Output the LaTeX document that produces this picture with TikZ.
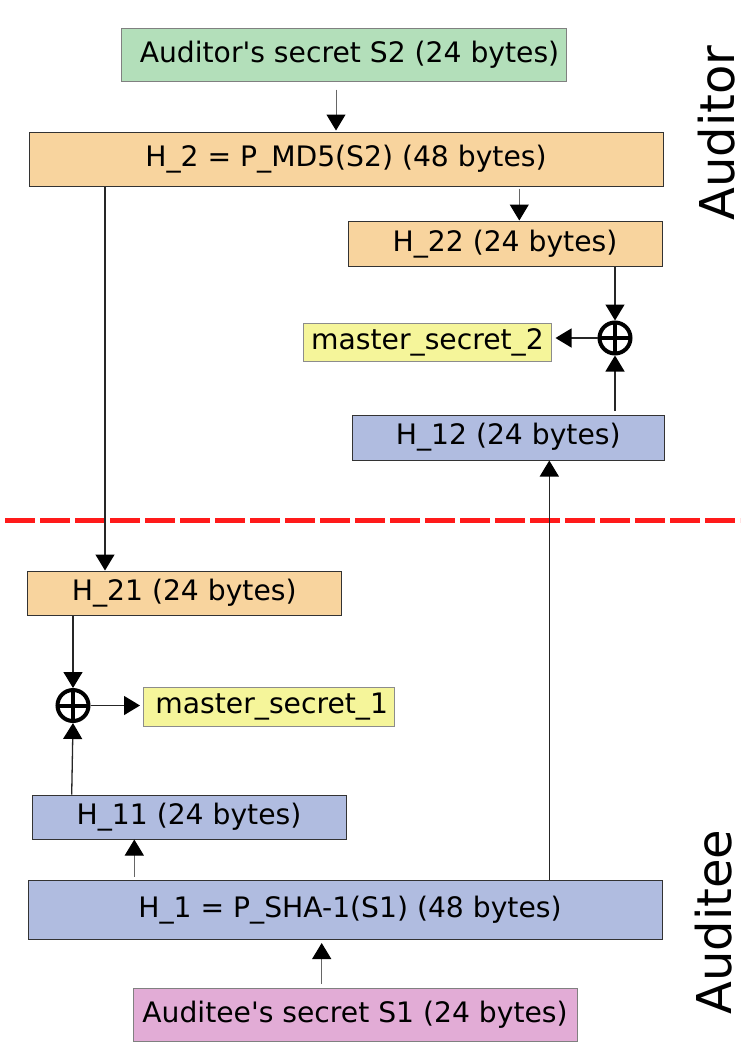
\documentclass[tikz,border=0pt]{standalone}
\usepackage{fontspec}
\setmainfont{DejaVu Sans}
\usetikzlibrary{arrows.meta,calc}
\definecolor{cgreen}{HTML}{B3DFBA}
\definecolor{corange}{HTML}{F8D49E}
\definecolor{cblue}{HTML}{B0BCE0}
\definecolor{cyellow}{HTML}{F5F59A}
\definecolor{cpink}{HTML}{E2ACD6}
\definecolor{cred}{HTML}{FF1A1A}
\tikzset{
  box/.style={draw=#1, line width=1pt, inner sep=0pt, font=\fontsize{28.2}{33}\selectfont, anchor=center},
  arr/.style={draw=black!85, line width=1.3pt, -{Triangle[length=16pt,width=19pt,color=black]}},
  thinarr/.style={arr, draw=black!60, line width=1pt},
  xorsym/.style={circle, draw=black, line width=4pt, minimum size=31pt, inner sep=0pt,
    path picture={\draw[line width=4pt] (path picture bounding box.north) -- (path picture bounding box.south)
      (path picture bounding box.west) -- (path picture bounding box.east);}},
  side/.style={font=\fontsize{48}{56}\selectfont, rotate=90, inner sep=0pt}
}
\begin{document}
\begin{tikzpicture}[x=1pt,y=-1pt]
\useasboundingbox (0,0) rectangle (745,1053);
% boxes
\node[box=black!50, fill=cgreen, minimum width=445pt, minimum height=52.5pt] (S2) at (343.5,54.75) {\hspace*{12pt}Auditor\textquotesingle s secret S2 (24 bytes)};
\node[box=black!80, fill=corange, minimum width=634pt, minimum height=54pt] (H2) at (346,159.5) {H\_2 = P\_MD5(S2) (48 bytes)};
\node[box=black!80, fill=corange, minimum width=314pt, minimum height=45.5pt] (H22) at (505,243.75) {H\_22 (24 bytes)};
\node[box=black!45, fill=cyellow, minimum width=248pt, minimum height=37.5pt] (MS2) at (427.5,342.25) {master\_secret\_2};
\node[box=black!80, fill=cblue, minimum width=312.5pt, minimum height=45pt] (H12) at (508.25,437.5) {H\_12 (24 bytes)};
\node[box=black!80, fill=corange, minimum width=313.5pt, minimum height=44.5pt] (H21) at (184.25,593.25) {H\_21 (24 bytes)};
\node[box=black!45, fill=cyellow, minimum width=250.5pt, minimum height=38.5pt] (MS1) at (268.75,706.75) {\hspace*{6pt}master\_secret\_1};
\node[box=black!80, fill=cblue, minimum width=314pt, minimum height=44pt] (H11) at (189,817) {H\_11 (24 bytes)};
\node[box=black!80, fill=cblue, minimum width=634pt, minimum height=59.5pt] (H1) at (345,909.75) {\hspace*{10pt}H\_1 = P\_SHA-1(S1) (48 bytes)};
\node[box=black!50, fill=cpink, minimum width=444pt, minimum height=52.5pt] (S1) at (355,1014.75) {Auditee\textquotesingle s secret S1 (24 bytes)};
% xor
\node[xorsym] (X2) at (615,338) {};
\node[xorsym] (X1) at (73,705.5) {};
% side labels
\node[side] (LA) at (717,133) {Auditor};
\node[side] (LE) at (714,922) {Auditee};
% dashed separator
\coordinate (DL) at (5,520);
\coordinate (DR) at (740,520);
\draw[cred, line width=5pt, dash pattern=on 30pt off 5pt] (DL) -- (DR);
% connectors
\coordinate (a1) at ([xshift=-7.5pt]S2.south);
\draw[thinarr, shorten <=8pt, shorten >=1.5pt] (a1) -- (a1 |- H2.north);
\coordinate (a2) at ([xshift=173.3pt]H2.south);
\draw[thinarr, shorten <=1.5pt] (a2) -- (a2 |- H22.north);
\draw[arr] (H22.south -| X2.north) -- (X2.north);
\draw[arr, shorten >=3.5pt] (X2.west) -- (X2.west -| MS2.east);
\draw[arr, shorten <=3.5pt] (H12.north -| X2.south) -- (X2.south);
\coordinate (a6) at ([xshift=-241pt]H2.south);
\draw[arr] (a6) -- (a6 |- H21.north);
\coordinate (a7) at ([xshift=204.3pt]H1.north);
\draw[arr] (a7) -- (a7 |- H12.south);
\draw[arr] (H21.south -| X1.north) -- (X1.north);
\draw[arr, shorten >=3pt] (X1.east) -- (X1.east -| MS1.west);
\draw[arr] ([xshift=-1.3pt]H11.north -| X1.south) -- (X1.south);
\coordinate (a11) at ([xshift=-210.7pt]H1.north);
\draw[thinarr, shorten <=3pt] (a11) -- (a11 |- H11.south);
\coordinate (a12) at ([xshift=-33.3pt]S1.north);
\draw[thinarr, shorten <=4.5pt, shorten >=3pt] (a12) -- (a12 |- H1.south);
\end{tikzpicture}
\end{document}
